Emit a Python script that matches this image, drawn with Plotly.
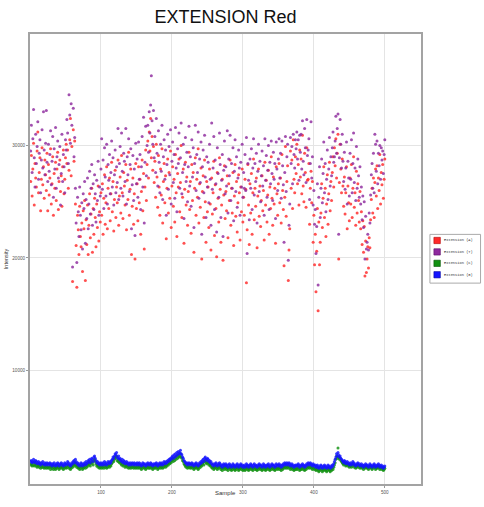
import plotly.graph_objects as go

# Intensities per sample, stored in hundreds of intensity units.
ext_a = [
    268, 291, 255, 279, 302, 247, 284, 271, 263, 295, 312, 258, 276, 289, 242, 270, 298, 265, 281, 253, 287, 274, 260, 293, 242,
    283, 256, 271, 297, 248, 266, 290, 238, 275, 262, 285, 251, 279, 294, 243, 268, 287, 259, 273, 246, 281, 296, 257, 270, 289,
    301, 284, 296, 262, 278, 305, 324, 273, 299, 179, 314, 286, 304, 248, 211, 174, 238, 225, 203, 246, 219, 210, 231, 188, 242,
    226, 251, 180, 234, 212, 247, 203, 229, 257, 218, 239, 262, 205, 244, 221, 253, 236, 210, 248, 227, 264, 215, 241, 232, 258,
    238, 266, 221, 253, 274, 230, 249, 281, 226, 262, 244, 271, 233, 257, 285, 241, 268, 224, 252, 278, 236, 263, 249, 287, 229,
    255, 272, 240, 291, 258, 235, 276, 264, 247, 283, 225, 269, 252, 294, 238, 261, 279, 203, 246, 271, 230, 257, 199, 284, 244,
    266, 233, 281, 249, 270, 221, 259, 287, 242, 275, 208, 263, 296, 251, 283, 304, 271, 312, 295, 324, 289, 308, 278, 299, 267,
    286, 254, 301, 272, 245, 291, 263, 238, 279, 256, 297, 231, 268, 284, 249, 273, 217, 262, 288, 240, 276, 253, 295, 227, 264,
    281, 246, 270, 232, 292, 258, 219, 275, 263, 288, 241, 267, 300, 236, 254, 279, 213, 261, 285, 247, 272, 229, 259, 294, 243,
    268, 222, 283, 251, 276, 205, 262, 289, 238, 270, 254, 297, 231, 266, 245, 280, 199, 259, 273, 236, 287, 250, 214, 268, 241,
    263, 227, 279, 248, 207, 271, 239, 258, 286, 220, 265, 244, 201, 276, 253, 232, 289, 261, 214, 247, 270, 198, 256, 282, 235,
    259, 242, 273, 218, 266, 251, 287, 229, 262, 240, 276, 211, 255, 283, 237, 268, 223, 249, 274, 258, 216, 263, 241, 279, 232,
    254, 238, 270, 261, 178, 225, 283, 247, 212, 266, 240, 275, 221, 258, 288, 234, 262, 246, 271, 209, 255, 279, 237, 264, 228,
    251, 273, 242, 260, 216, 285, 247, 269, 232, 256, 278, 221, 263, 244, 290, 253, 229, 272, 248, 262, 213, 281, 257, 238, 266,
    284, 249, 271, 231, 292, 260, 243, 193, 254, 299, 237, 268, 282, 180, 207, 226, 295, 262, 287, 244, 305, 270, 258, 290, 275,
    301, 266, 283, 247, 296, 272, 288, 257, 309, 264, 250, 293, 276, 245, 298, 269, 270, 284, 230, 262, 277, 249, 268, 214, 238,
    194, 221, 170, 206, 244, 153, 232, 194, 214, 240, 266, 227, 253, 281, 236, 262, 219, 248, 274, 230, 257, 285, 242, 268, 251,
    276, 290, 263, 298, 282, 306, 271, 293, 310, 199, 267, 301, 279, 258, 288, 264, 246, 272, 239, 258, 281, 226, 264, 249, 233,
    271, 248, 283, 236, 262, 290, 245, 258, 229, 277, 240, 266, 251, 232, 259, 226, 241, 212, 233, 205, 228, 184, 215, 187, 199,
    210, 191, 218, 209, 234, 252, 262, 240, 271, 236, 267, 279, 255, 282, 244, 271, 260, 292, 248, 276, 265, 283, 253, 270, 288,
]

ext_t = [
    295, 318, 276, 306, 332, 289, 263, 310, 284, 299, 321, 270, 293, 305, 258, 287, 314, 280, 330, 296, 274, 302, 331, 285, 268,
    301, 277, 292, 313, 265, 286, 308, 254, 297, 279, 316, 262, 290, 304, 271, 283, 299, 247, 275, 310, 268, 292, 281, 258, 305,
    296, 323, 311, 284, 345, 327, 302, 337, 318, 192, 333, 290, 307, 262, 231, 196, 254, 241, 219, 263, 238, 225, 249, 208, 257,
    244, 268, 213, 252, 235, 271, 226, 248, 277, 239, 262, 283, 229, 266, 243, 274, 257, 232, 269, 251, 286, 238, 263, 255, 279,
    306, 261, 287, 244, 298, 272, 255, 301, 248, 283, 269, 292, 257, 276, 304, 263, 289, 247, 274, 296, 258, 281, 267, 315, 252,
    284, 299, 262, 311, 277, 255, 293, 286, 268, 315, 248, 290, 274, 306, 259, 283, 297, 226, 265, 291, 251, 279, 220, 302, 266,
    288, 254, 303, 270, 292, 243, 281, 308, 263, 325, 231, 285, 317, 273, 300, 318, 294, 330, 311, 336, 362, 322, 301, 331, 289,
    308, 276, 324, 293, 264, 313, 285, 258, 301, 277, 318, 252, 290, 305, 270, 296, 238, 283, 310, 261, 299, 274, 314, 248, 286,
    303, 267, 292, 253, 316, 280, 241, 297, 284, 311, 262, 289, 320, 257, 276, 301, 235, 283, 307, 268, 294, 250, 281, 317, 264,
    290, 246, 305, 272, 298, 227, 284, 318, 260, 292, 276, 312, 253, 288, 267, 303, 221, 281, 296, 258, 309, 272, 236, 290, 263,
    285, 249, 301, 270, 229, 320, 261, 280, 308, 243, 287, 266, 223, 298, 275, 254, 311, 283, 236, 269, 292, 219, 278, 304, 257,
    281, 264, 313, 240, 288, 273, 309, 251, 284, 262, 298, 233, 277, 305, 259, 290, 245, 271, 296, 280, 238, 285, 263, 301, 254,
    276, 262, 292, 260, 307, 204, 284, 269, 234, 288, 262, 297, 243, 280, 306, 256, 284, 268, 293, 231, 277, 301, 259, 286, 250,
    273, 295, 264, 282, 238, 306, 269, 291, 254, 278, 300, 243, 285, 266, 304, 275, 251, 294, 270, 284, 235, 303, 279, 260, 288,
    306, 271, 293, 253, 304, 282, 265, 214, 276, 308, 259, 290, 301, 198, 229, 248, 307, 284, 299, 266, 310, 292, 280, 305, 297,
    312, 288, 305, 269, 309, 294, 310, 279, 322, 286, 274, 315, 298, 267, 323, 291, 296, 306, 252, 284, 321, 271, 290, 247, 260,
    230, 243, 204, 228, 266, 176, 254, 281, 236, 262, 288, 249, 275, 303, 258, 284, 241, 270, 296, 252, 279, 307, 264, 290, 273,
    298, 312, 285, 290, 304, 326, 293, 315, 328, 221, 289, 323, 301, 280, 310, 286, 268, 294, 261, 280, 303, 248, 286, 271, 255,
    293, 270, 305, 258, 284, 311, 267, 280, 251, 299, 262, 288, 273, 254, 281, 248, 263, 234, 255, 227, 250, 199, 237, 208, 214,
    221, 207, 240, 231, 256, 274, 284, 262, 293, 258, 310, 301, 277, 304, 266, 293, 282, 300, 270, 298, 287, 295, 275, 292, 305,
]

ext_c = [
    16, 17, 15, 16, 18, 15, 16, 17, 15, 14, 16, 15, 14, 16, 13, 15, 14, 16, 14, 13, 15, 14, 13, 15, 14,
    13, 14, 15, 12, 14, 13, 15, 12, 14, 13, 12, 14, 13, 15, 14, 12, 13, 14, 15, 13, 14, 12, 13, 15, 14,
    13, 14, 16, 15, 13, 14, 12, 13, 15, 14, 16, 17, 15, 18, 16, 14, 15, 13, 14, 12, 13, 15, 14, 12, 13,
    14, 15, 13, 16, 14, 15, 17, 16, 18, 15, 17, 19, 18, 16, 20, 21, 19, 17, 15, 16, 14, 15, 13, 14, 15,
    13, 14, 15, 13, 16, 14, 15, 13, 14, 16, 15, 14, 16, 15, 17, 18, 20, 19, 21, 23, 22, 24, 20, 19, 21,
    18, 19, 17, 16, 18, 15, 17, 16, 14, 15, 16, 14, 15, 13, 14, 15, 13, 14, 15, 14, 13, 15, 14, 13, 14,
    15, 13, 14, 15, 13, 14, 12, 13, 15, 14, 13, 14, 12, 13, 14, 15, 13, 14, 13, 15, 14, 13, 12, 14, 13,
    14, 13, 15, 14, 12, 13, 14, 15, 13, 14, 15, 13, 14, 16, 15, 14, 16, 15, 17, 16, 18, 17, 19, 18, 20,
    21, 19, 22, 20, 23, 21, 24, 22, 25, 23, 24, 26, 23, 22, 20, 19, 17, 16, 15, 14, 15, 13, 14, 15, 14,
    13, 14, 15, 13, 14, 12, 13, 14, 15, 13, 14, 12, 13, 15, 14, 16, 15, 17, 18, 16, 19, 20, 18, 17, 19,
    18, 16, 17, 15, 16, 14, 13, 14, 12, 13, 14, 15, 13, 12, 14, 13, 15, 14, 12, 13, 11, 13, 14, 12, 13,
    14, 12, 13, 11, 13, 14, 12, 13, 11, 12, 14, 13, 12, 11, 13, 12, 14, 13, 11, 12, 13, 14, 12, 13, 11,
    12, 13, 11, 12, 14, 13, 12, 11, 13, 12, 14, 13, 12, 11, 13, 14, 12, 13, 12, 11, 13, 12, 14, 13, 12,
    13, 11, 12, 14, 13, 12, 11, 13, 12, 13, 14, 12, 11, 13, 12, 14, 13, 12, 13, 11, 12, 14, 13, 12, 13,
    14, 12, 13, 11, 13, 12, 14, 13, 15, 14, 13, 15, 14, 13, 15, 14, 12, 13, 14, 12, 13, 11, 12, 13, 12,
    13, 12, 14, 13, 11, 12, 13, 12, 14, 13, 12, 11, 13, 12, 14, 13, 15, 14, 13, 15, 14, 13, 12, 14, 13,
    12, 13, 11, 12, 13, 11, 10, 12, 11, 13, 12, 10, 11, 12, 13, 11, 12, 10, 11, 13, 12, 11, 10, 12, 11,
    13, 12, 14, 16, 18, 21, 24, 22, 31, 23, 21, 22, 20, 19, 18, 17, 16, 18, 17, 15, 16, 17, 15, 16, 14,
    15, 16, 14, 15, 17, 16, 14, 15, 13, 14, 15, 16, 14, 15, 13, 14, 15, 13, 14, 12, 14, 13, 15, 14, 13,
    14, 12, 13, 15, 14, 13, 12, 14, 13, 15, 14, 12, 13, 14, 13, 15, 14, 12, 13, 14, 12, 13, 11, 12, 13,
]

ext_g = [
    19, 20, 18, 19, 21, 19, 18, 20, 19, 17, 18, 19, 17, 18, 16, 18, 17, 19, 17, 16, 18, 17, 16, 18, 17,
    16, 17, 18, 16, 17, 15, 17, 16, 18, 16, 15, 17, 16, 18, 17, 15, 16, 17, 18, 16, 17, 15, 16, 18, 17,
    16, 17, 19, 18, 16, 17, 15, 16, 18, 17, 19, 20, 18, 21, 19, 17, 18, 16, 17, 15, 16, 18, 17, 15, 16,
    17, 18, 16, 19, 17, 18, 20, 19, 21, 18, 20, 22, 21, 19, 23, 24, 22, 20, 18, 19, 17, 18, 16, 17, 18,
    16, 17, 18, 16, 19, 17, 18, 16, 17, 19, 18, 17, 19, 18, 20, 21, 23, 22, 24, 26, 25, 27, 23, 22, 24,
    21, 22, 20, 19, 21, 18, 20, 19, 17, 18, 19, 17, 18, 16, 17, 18, 16, 17, 18, 17, 16, 18, 17, 16, 17,
    18, 16, 17, 18, 16, 17, 15, 16, 18, 17, 16, 17, 15, 16, 17, 18, 16, 17, 16, 18, 17, 16, 15, 17, 16,
    17, 16, 18, 17, 15, 16, 17, 18, 16, 17, 18, 16, 17, 19, 18, 17, 19, 18, 20, 19, 21, 20, 22, 21, 23,
    24, 22, 25, 23, 26, 24, 27, 25, 28, 26, 27, 29, 26, 25, 23, 22, 20, 19, 18, 17, 18, 16, 17, 18, 17,
    16, 17, 18, 16, 17, 15, 16, 17, 18, 16, 17, 15, 16, 18, 17, 19, 18, 20, 21, 19, 22, 23, 21, 20, 22,
    21, 19, 20, 18, 19, 17, 16, 17, 15, 16, 17, 18, 16, 15, 17, 16, 18, 17, 15, 16, 14, 16, 17, 15, 16,
    17, 15, 16, 14, 16, 17, 15, 16, 14, 15, 17, 16, 15, 14, 16, 15, 17, 16, 14, 15, 16, 17, 15, 16, 14,
    15, 16, 14, 15, 17, 16, 15, 14, 16, 15, 17, 16, 15, 14, 16, 17, 15, 16, 15, 14, 16, 15, 17, 16, 15,
    16, 14, 15, 17, 16, 15, 14, 16, 15, 16, 17, 15, 14, 16, 15, 17, 16, 15, 16, 14, 15, 17, 16, 15, 16,
    17, 15, 16, 14, 16, 15, 17, 16, 18, 17, 16, 18, 17, 16, 18, 17, 15, 16, 17, 15, 16, 14, 15, 16, 15,
    16, 15, 17, 16, 14, 15, 16, 15, 17, 16, 15, 14, 16, 15, 17, 16, 18, 17, 16, 18, 17, 16, 15, 17, 16,
    15, 16, 14, 15, 16, 14, 13, 15, 14, 16, 15, 13, 14, 15, 16, 14, 15, 13, 14, 16, 15, 14, 13, 15, 14,
    16, 15, 17, 19, 21, 23, 26, 24, 27, 25, 23, 24, 22, 21, 20, 19, 18, 20, 19, 17, 18, 19, 17, 18, 16,
    17, 18, 16, 17, 19, 18, 16, 17, 15, 16, 17, 18, 16, 17, 15, 16, 17, 15, 16, 14, 16, 15, 17, 16, 15,
    16, 14, 15, 17, 16, 15, 14, 16, 15, 17, 16, 14, 15, 16, 15, 17, 16, 14, 15, 16, 14, 15, 13, 14, 15,
]

UNIT = 100
series_names = ["Extension (A)", "Extension (T)", "Extension (C)", "Extension (G)"]
series_values = [ext_a, ext_t, ext_c, ext_g]
series_colors = ["#ff2a2a", "#8e2a9e", "#119111", "#1414ff"]
legend_edges = ["#b00000", "#5a0a66", "#055005", "#0000a0"]

x_ticks = [100, 200, 300, 400, 500]
y_ticks = [10000, 20000, 30000]

W, H = 484, 507
ML, MR, MT, MB = 27, 63, 34, 16

fig = go.Figure()
for name, vals, col in zip(series_names, series_values, series_colors):
    fig.add_trace(go.Scatter(
        x=list(range(1, len(vals) + 1)),
        y=[v * UNIT for v in vals],
        mode="markers",
        name=name,
        showlegend=False,
        marker=dict(size=3, color=col, opacity=0.82, line=dict(width=0)),
    ))

# Hand-built legend box on the right, positioned in pixels
plot_w = W - ML - MR
plot_h = H - MT - MB


def px_x(px):
    return (px - ML) / plot_w


def px_y(py):
    return (H - MB - py) / plot_h


shapes = [dict(type="rect", xref="paper", yref="paper",
               x0=px_x(430), x1=px_x(481), y0=px_y(287), y1=px_y(237.5),
               line=dict(color="#aaaaaa", width=1), fillcolor="white")]
annotations = []
for i, (name, col, edge) in enumerate(zip(series_names, series_colors, legend_edges)):
    cy = 243.7 + i * 11.6
    shapes.append(dict(type="rect", xref="paper", yref="paper",
                       x0=px_x(434), x1=px_x(440.5), y0=px_y(cy + 3.2), y1=px_y(cy - 3.2),
                       line=dict(color=edge, width=0.6), fillcolor=col))
    annotations.append(dict(xref="paper", yref="paper", x=px_x(442.5), y=px_y(cy),
                            xanchor="left", yanchor="middle", showarrow=False,
                            text=name, font=dict(family="Liberation Mono", size=3.7, color="#333333")))

# Axis titles
annotations.append(dict(xref="paper", yref="paper", x=0.5, y=px_y(500.5),
                        xanchor="center", yanchor="middle", showarrow=False, text="Sample",
                        font=dict(family="Liberation Sans", size=6, color="#333333")))
annotations.append(dict(xref="paper", yref="paper", x=px_x(3), y=0.5, textangle=-90,
                        xanchor="center", yanchor="middle", showarrow=False, text="Intensity",
                        font=dict(family="Liberation Sans", size=5.5, color="#333333")))

axis_common = dict(
    showline=True, mirror=True, linecolor="#a3a3a3", linewidth=2,
    showgrid=True, gridcolor="#e4e4e4", gridwidth=1.3,
    zeroline=False, ticks="outside", ticklen=2, tickcolor="#999999", tickwidth=1,
    tickfont=dict(family="Liberation Sans", size=4.6, color="#555555"),
)

fig.update_layout(
    width=W, height=H,
    margin=dict(l=ML, r=MR, t=MT, b=MB, pad=0),
    paper_bgcolor="white", plot_bgcolor="white",
    title=dict(text="EXTENSION Red", x=0.5, xref="paper", xanchor="center",
               y=1 - 16.5 / H, yref="container", yanchor="middle",
               font=dict(family="Liberation Sans", size=18, color="#111111")),
    xaxis=dict(range=[0, 551], tickvals=x_ticks, ticktext=[str(t) for t in x_ticks], **axis_common),
    yaxis=dict(range=[-100, 39900], tickvals=y_ticks, ticktext=[str(t) for t in y_ticks], **axis_common),
    shapes=shapes,
    annotations=annotations,
    showlegend=False,
)

fig.write_html("out.html")
